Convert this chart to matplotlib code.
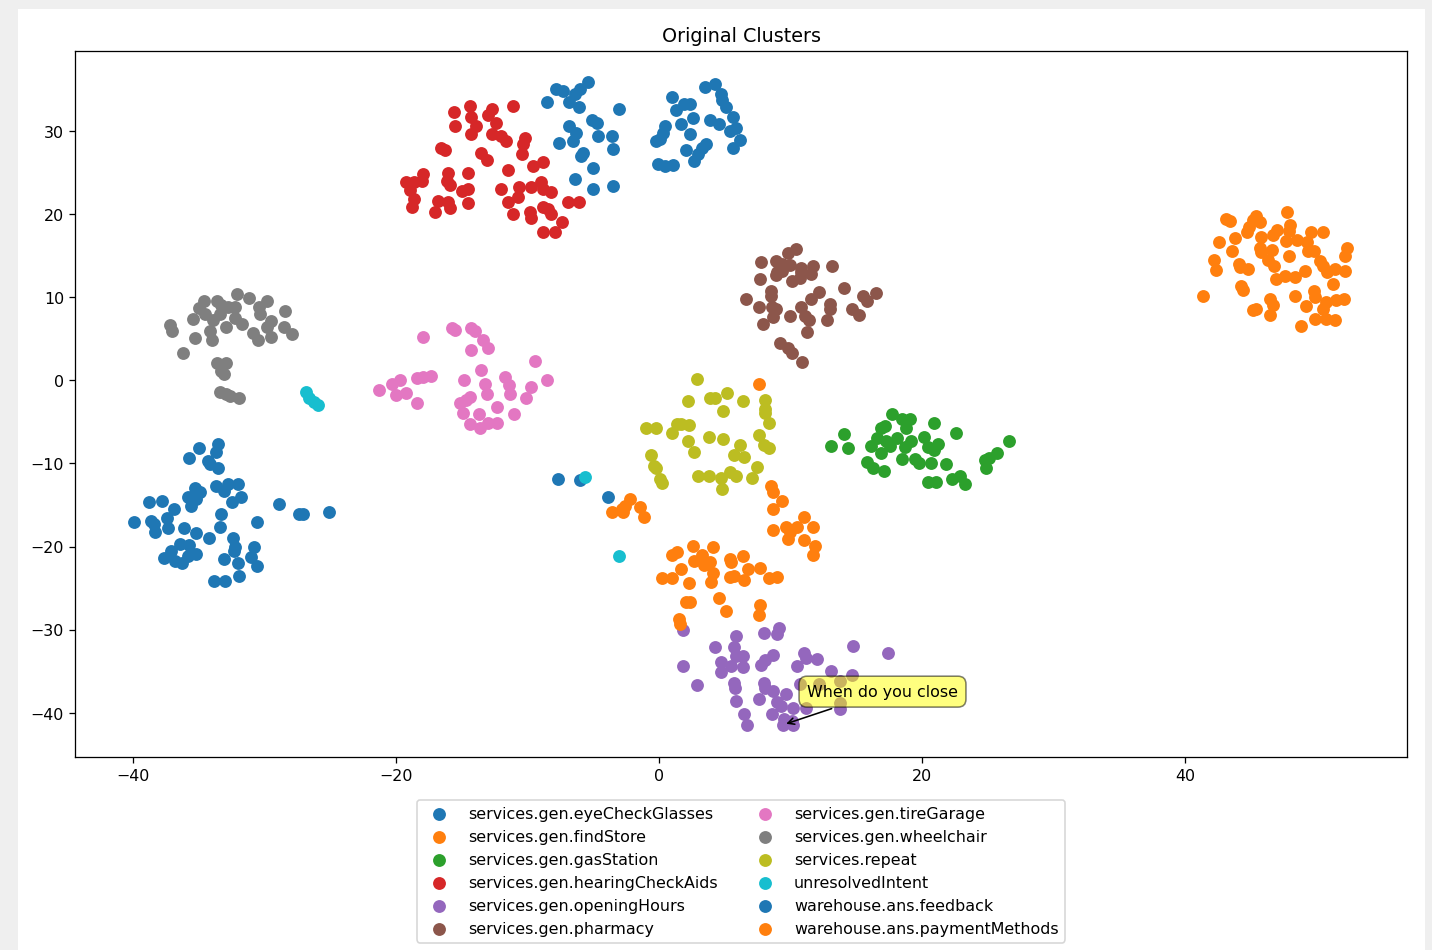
import matplotlib.pyplot as plt
from matplotlib.patches import Rectangle

labels = [
    "services.gen.eyeCheckGlasses",
    "services.gen.findStore",
    "services.gen.gasStation",
    "services.gen.hearingCheckAids",
    "services.gen.openingHours",
    "services.gen.pharmacy",
    "services.gen.tireGarage",
    "services.gen.wheelchair",
    "services.repeat",
    "unresolvedIntent",
    "warehouse.ans.feedback",
    "warehouse.ans.paymentMethods",
]

# 2-D embedding coordinates, one pair of lists per intent
eye_x = [-33.5, -35.0, -33.7, -35.7, -34.3, -34.1, -33.5, -35.3, -34.9, -33.7,
         -33.1, -32.8, -32.0, -35.8, -35.2, -35.6, -31.8, -32.5, -38.8, -37.8,
         -36.9, -28.9, -27.4, -27.1, -25.1, -39.9, -38.6, -38.4, -37.4, -37.3,
         -33.3, -33.4, -30.6, -38.3, -36.1, -35.2, -34.2, -36.4, -35.7, -32.4,
         -32.2, -32.3, -30.8, -37.1, -37.6, -36.8, -36.3, -35.8, -35.2, -33.1,
         -32.0, -31.0, -30.6, -33.8, -33.0, -31.9, -7.7, -6.0, -3.9]
eye_y = [-7.7, -8.2, -8.6, -9.4, -9.7, -10.1, -10.5, -13.0, -13.5, -12.7,
         -13.3, -12.5, -12.5, -14.1, -14.3, -15.1, -14.1, -14.7, -14.7, -14.5,
         -15.5, -14.9, -16.1, -16.1, -15.8, -17.0, -16.9, -17.3, -16.6, -17.8,
         -16.1, -17.7, -17.0, -18.2, -17.8, -18.4, -19.0, -19.7, -19.8, -19.0,
         -20.0, -20.5, -20.1, -20.5, -21.4, -21.8, -22.0, -21.1, -20.9, -21.5,
         -22.0, -21.3, -22.3, -24.2, -24.1, -23.5, -11.9, -12.0, -14.1]

store_x = [43.1, 43.4, 45.4, 45.7, 45.2, 44.9, 44.7, 47.8, 48.0, 47.9,
           47.0, 46.7, 45.8, 42.6, 43.8, 47.7, 48.5, 49.3, 49.6, 50.5,
           43.6, 45.7, 46.6, 45.8, 49.4, 49.8, 52.3, 52.2, 47.9, 42.2,
           42.4, 44.1, 44.2, 44.8, 46.3, 46.8, 50.3, 50.5, 50.8, 51.4,
           52.2, 49.1, 48.4, 47.6, 46.9, 51.3, 44.3, 44.4, 41.4, 46.5,
           46.7, 48.4, 49.8, 49.9, 50.7, 50.5, 51.5, 52.1, 45.2, 45.4,
           46.5, 49.2, 49.9, 50.7, 51.4, 48.8]
store_y = [19.4, 19.2, 19.8, 19.1, 19.3, 18.5, 17.8, 20.2, 18.7, 18.0,
           18.1, 17.5, 17.2, 16.6, 17.1, 16.7, 16.9, 16.6, 17.9, 17.8,
           15.5, 15.9, 15.7, 15.4, 15.5, 15.6, 15.9, 14.9, 14.9, 14.5,
           13.3, 14.0, 13.6, 13.4, 14.5, 13.8, 14.4, 13.8, 13.0, 13.4,
           13.1, 13.1, 12.4, 12.5, 12.2, 11.6, 11.3, 10.9, 10.2, 9.8,
           9.0, 10.2, 10.8, 10.0, 9.4, 8.6, 9.7, 9.8, 8.4, 8.6,
           7.8, 8.9, 7.4, 7.4, 7.3, 6.5]

gas_x = [17.7, 18.5, 19.1, 20.9, 17.2, 16.9, 18.8, 14.1, 22.6, 16.6,
         18.1, 20.2, 26.6, 13.1, 14.4, 16.1, 17.3, 17.6, 19.2, 18.7,
         20.5, 21.2, 20.9, 16.9, 25.7, 15.8, 16.3, 17.1, 18.5, 19.5,
         19.8, 20.7, 21.8, 24.8, 25.1, 24.9, 20.5, 21.1, 22.3, 22.9,
         23.3]
gas_y = [-4.1, -4.7, -4.7, -5.1, -5.5, -5.7, -5.8, -6.5, -6.4, -6.9,
         -6.9, -6.8, -7.3, -7.9, -8.1, -7.9, -7.3, -7.9, -7.3, -8.0,
         -8.0, -7.7, -8.4, -8.8, -8.8, -9.8, -10.5, -10.9, -9.5, -9.5,
         -9.9, -9.9, -10.1, -9.6, -9.3, -10.5, -12.2, -12.2, -11.9, -11.5,
         -12.5]

hearing_x = [-15.6, -14.4, -12.7, -11.1, -14.3, -13.0, -15.5, -13.9, -12.4, -14.3,
             -12.7, -12.0, -11.6, -10.2, -10.3, -16.6, -16.3, -13.5, -13.1, -10.4,
             -9.6, -8.8, -11.5, -17.9, -16.0, -14.5, -19.2, -18.6, -18.0, -16.1,
             -15.9, -12.0, -10.6, -9.7, -9.0, -8.8, -8.2, -18.9, -15.0, -14.5,
             -10.7, -18.6, -16.8, -16.0, -14.5, -11.5, -6.9, -6.1, -18.8, -17.0,
             -15.9, -11.1, -9.8, -9.7, -8.8, -8.4, -8.2, -7.4, -8.8, -7.9]
hearing_y = [32.3, 33.0, 32.7, 33.0, 31.7, 31.9, 30.6, 30.6, 30.9, 29.6,
             29.6, 29.4, 28.8, 29.2, 28.4, 28.0, 27.7, 27.4, 26.5, 27.2,
             25.8, 26.3, 25.3, 24.8, 24.9, 24.9, 23.9, 23.9, 24.0, 24.0,
             23.5, 23.0, 23.3, 23.2, 23.8, 23.0, 22.6, 22.9, 22.8, 23.0,
             22.0, 21.8, 21.6, 21.5, 21.3, 21.4, 21.4, 21.4, 20.9, 20.3,
             20.7, 20.0, 20.2, 19.5, 20.9, 20.6, 20.0, 19.1, 17.8, 17.8]

hours_x = [1.8, 5.9, 8.0, 9.1, 9.0, 4.3, 5.7, 14.8, 17.4, 5.9,
           6.4, 8.7, 8.1, 11.0, 11.2, 12.0, 1.8, 4.7, 5.5, 6.4,
           4.7, 7.8, 10.5, 13.1, 14.7, 2.9, 5.7, 5.8, 8.0, 8.1,
           8.7, 9.7, 10.7, 12.2, 13.8, 5.9, 7.6, 9.0, 9.3, 10.2,
           13.8, 13.8, 11.2, 6.5, 8.6, 9.5, 10.1, 6.7, 9.45, 10.2]
hours_y = [-30.1, -30.8, -30.4, -29.8, -30.5, -32.1, -32.1, -32.0, -32.8, -33.2,
           -33.2, -33.1, -33.6, -32.8, -33.4, -33.5, -34.4, -33.9, -34.4, -34.5,
           -35.1, -34.2, -34.4, -35.0, -35.4, -36.7, -36.4, -37.0, -36.4, -37.0,
           -37.4, -37.8, -36.6, -36.6, -36.2, -38.6, -38.4, -38.7, -39.2, -39.4,
           -38.8, -39.6, -39.4, -40.2, -40.2, -40.7, -41.0, -41.5, -41.45, -41.5]

pharmacy_x = [10.4, 9.8, 7.8, 8.9, 9.4, 10.0, 10.8, 11.7, 13.2, 9.0,
              8.9, 9.4, 10.8, 11.6, 10.1, 10.7, 7.7, 8.5, 8.5, 6.6,
              14.1, 12.2, 11.6, 15.5, 15.8, 16.5, 7.6, 8.6, 8.9, 10.8,
              13.0, 13.0, 14.7, 15.2, 10.0, 11.1, 11.4, 8.7, 7.9, 12.8,
              11.3, 9.2, 9.8, 10.1, 10.9]
pharmacy_y = [15.8, 15.3, 14.2, 14.4, 14.0, 13.9, 13.5, 13.8, 13.7, 13.0,
              12.7, 13.1, 13.0, 12.8, 12.0, 12.3, 12.2, 10.8, 10.2, 9.8,
              11.1, 10.6, 9.8, 10.1, 9.6, 10.5, 8.8, 8.8, 8.6, 8.8,
              9.2, 8.6, 8.6, 7.8, 7.7, 7.7, 7.3, 7.6, 6.8, 7.2,
              5.8, 4.5, 3.9, 3.3, 2.2]

tire_x = [-17.9, -15.7, -15.5, -14.3, -14.0, -13.4, -13.0, -14.3, -9.4, -8.5,
          -21.3, -20.3, -19.7, -18.4, -17.9, -17.3, -14.8, -13.5, -13.2, -11.7,
          -11.4, -11.3, -9.7, -10.1, -20.0, -19.2, -18.4, -15.1, -14.7, -14.4,
          -14.9, -13.1, -12.3, -11.0, -13.7, -14.4, -13.6, -13.0, -12.3]
tire_y = [5.2, 6.3, 6.1, 6.3, 5.9, 4.9, 3.9, 3.6, 2.3, 0.0,
          -1.2, -0.4, 0.0, 0.3, 0.4, 0.5, 0.0, 1.2, -0.4, 0.4,
          -0.6, -1.6, -0.8, -2.1, -1.8, -1.5, -2.7, -2.7, -2.4, -2.0,
          -3.9, -1.7, -3.2, -4.0, -4.0, -5.3, -5.7, -5.1, -5.1]

wheel_x = [-32.1, -31.2, -34.6, -33.6, -29.8, -35.0, -33.3, -32.8, -32.2, -30.4,
           -34.5, -33.4, -30.3, -28.4, -35.4, -33.9, -32.2, -31.7, -29.5, -37.2,
           -37.0, -32.9, -34.1, -29.8, -28.5, -30.9, -30.5, -29.5, -27.9, -35.3,
           -34.0, -36.2, -33.6, -32.9, -33.3, -33.1, -33.4, -32.9, -32.6, -31.9]
wheel_y = [10.4, 9.9, 9.6, 9.6, 9.6, 8.7, 9.1, 8.8, 8.8, 8.8,
           8.0, 8.0, 8.0, 8.3, 7.4, 7.2, 7.5, 6.8, 7.1, 6.6,
           5.9, 6.4, 5.9, 6.4, 6.4, 5.7, 4.9, 5.2, 5.6, 5.1,
           4.8, 3.3, 2.1, 2.1, 1.1, 0.7, -1.4, -1.6, -1.9, -2.1]

repeat_x = [2.9, 5.2, 3.9, 4.3, 2.2, 6.4, 4.9, 8.1, 8.1, 8.1,
            8.4, -1.0, -0.2, 1.4, 1.7, 2.3, 1.0, 3.8, 4.9, 2.2,
            7.6, 2.7, 6.2, 8.0, 8.4, -0.6, 5.7, 6.5, -0.4, -0.2,
            7.5, 0.1, 0.2, 3.0, 3.8, 4.7, 5.4, 5.9, 7.1, 4.8]
repeat_y = [0.1, -1.5, -2.1, -2.1, -2.5, -2.5, -3.7, -2.4, -3.5, -3.9,
            -5.1, -5.7, -5.7, -5.3, -5.3, -5.4, -6.4, -6.8, -7.1, -7.3,
            -6.6, -8.6, -7.8, -7.8, -8.1, -9.0, -9.0, -9.2, -10.3, -10.6,
            -10.4, -11.9, -12.3, -11.5, -11.5, -11.7, -11.0, -11.5, -11.7, -13.1]

unresolved_x = [-26.8, -26.6, -26.2, -25.9, -5.6, -3.0]
unresolved_y = [-1.4, -2.1, -2.6, -3.0, -11.6, -21.2]

feedback_x = [-5.4, -7.8, -7.3, -6.0, -6.4, -6.8, -8.5, -6.1, -3.0, -5.1,
              -4.7, -6.8, -6.3, -4.6, -3.6, -7.6, -6.5, -5.8, -5.9, -3.5,
              -5.0, -6.4, -5.0, -3.5,
              3.5, 4.3, 4.7, 4.8, 5.1, 1.0, 1.9, 2.4, 1.3, 2.6,
              1.7, 3.9, 4.6, 5.6, 5.9, 5.4, 0.5, 0.3, 0.1, -0.2,
              2.4, 6.2, 5.6, 3.6, 3.3, 2.1, 3.0, 2.7, -0.1, 0.5, 1.1]
feedback_y = [35.9, 35.1, 34.8, 35.1, 34.4, 33.5, 33.5, 32.9, 32.7, 31.3,
              30.9, 30.6, 29.8, 29.4, 29.4, 28.6, 28.8, 27.4, 27.0, 27.8,
              25.5, 24.2, 23.0, 23.4,
              35.3, 35.6, 34.5, 33.7, 32.9, 34.1, 33.3, 33.2, 32.5, 31.6,
              30.8, 31.3, 30.8, 31.7, 30.4, 30.0, 30.6, 29.7, 29.0, 28.8,
              29.6, 28.9, 28.0, 28.4, 28.0, 27.7, 27.2, 26.4, 26.0, 25.8, 25.9]

payment_x = [7.6,
             -2.2, -2.6, -2.8, -2.7, -3.6, -1.4, -1.1,
             8.5, 8.7, 9.4, 8.7, 11.0, 8.7, 9.7, 10.5, 11.7, 10.0,
             9.8, 11.0, 11.9, 11.7,
             2.6, 4.1, 1.4, 1.0, 3.3, 2.7, 3.9, 3.4, 5.4, 6.4,
             5.5, 1.7, 6.8, 7.7, 4.1, 4.0, 0.2, 1.0, 2.3, 5.4,
             5.7, 6.5, 8.4, 9.0, 4.6, 2.1, 2.4, 5.1, 7.7, 7.6,
             1.5, 1.6]
payment_y = [-0.5,
             -14.3, -15.1, -15.5, -15.9, -15.8, -15.2, -16.5,
             -12.7, -13.5, -14.5, -15.5, -16.4, -18.0, -17.6, -17.6, -17.6, -18.2,
             -19.1, -19.2, -19.9, -21.0,
             -19.9, -20.0, -20.6, -21.0, -21.0, -21.8, -21.9, -22.2, -21.5, -21.2,
             -21.9, -22.7, -22.7, -22.6, -23.2, -24.3, -23.8, -23.8, -24.4, -23.7,
             -23.5, -24.0, -23.8, -23.7, -26.2, -26.7, -26.7, -27.7, -27.0, -28.2,
             -28.7, -29.3]

series = [
    (eye_x, eye_y), (store_x, store_y), (gas_x, gas_y), (hearing_x, hearing_y),
    (hours_x, hours_y), (pharmacy_x, pharmacy_y), (tire_x, tire_y),
    (wheel_x, wheel_y), (repeat_x, repeat_y), (unresolved_x, unresolved_y),
    (feedback_x, feedback_y), (payment_x, payment_y),
]

# hovered sample shown with the tooltip
hover_text = "When do you close"
hover_xy = (9.45, -41.45)

DPI = 114.56
fig = plt.figure(figsize=(12.5, 8.3), dpi=DPI)
fig.patch.set_facecolor("#efefef")
# white canvas inside the grey window frame
canvas = Rectangle((18 / 1432, 0), 1407 / 1432, 940 / 950,
                   transform=fig.transFigure, facecolor="white",
                   edgecolor="none", zorder=-10)
fig.add_artist(canvas)

ax = fig.add_axes([0.0524, 0.2032, 0.9302, 0.7421])
for label, (xs, ys) in zip(labels, series):
    ax.scatter(xs, ys, s=50, label=label)

ax.set_xlim(-44.4, 56.9)
ax.set_ylim(-45.3, 39.6)
ax.set_title("Original Clusters")

ax.annotate(hover_text, xy=hover_xy, xytext=(15, 18), textcoords="offset points",
            bbox=dict(boxstyle="round,pad=0.5", fc="yellow", alpha=0.5),
            arrowprops=dict(arrowstyle="->", connectionstyle="arc3,rad=0"))

ax.legend(loc="upper center", bbox_to_anchor=(0.5, -0.05), ncol=2)

fig.savefig("out.png", dpi=DPI, facecolor=fig.get_facecolor())
